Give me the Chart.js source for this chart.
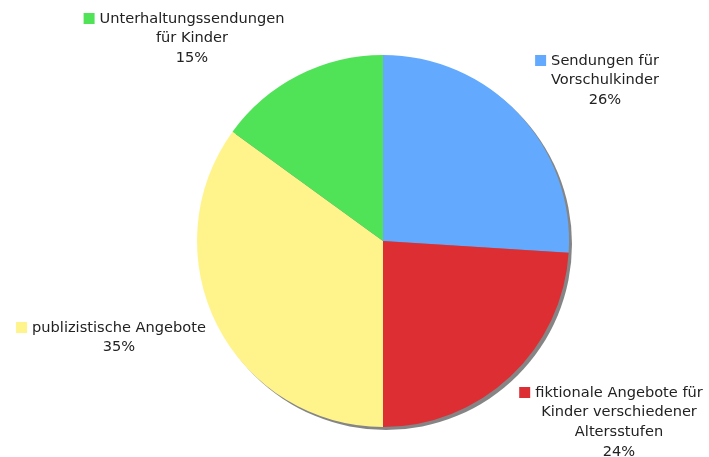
<!DOCTYPE html>
<html>
<head>
<meta charset="utf-8">
<script src="https://cdn.jsdelivr.net/npm/chart.js@4/dist/chart.umd.min.js"></script>
<style>
  html, body { margin: 0; padding: 0; background: #fff; }
  #wrap { width: 709px; height: 457px; }
</style>
</head>
<body>
<div id="wrap"><canvas id="pieChart" width="709" height="457"></canvas></div>
<script>
const categories = [
    ['Sendungen für', 'Vorschulkinder'],
    ['fiktionale Angebote für', 'Kinder verschiedener', 'Altersstufen'],
    ['publizistische Angebote'],
    ['Unterhaltungssendungen', 'für Kinder']
];
const shares = [26, 24, 35, 15];
const colors = ['#63aaff', '#dd2e34', '#fff48c', '#50e358'];

// where each label block sits (centre x, middle of first line)
const labelAnchors = [[605, 61], [619, 393], [119, 328], [192, 19]];

const shadowPlugin = {
    id: 'pieShadow',
    beforeDatasetsDraw(chart) {
        const arc = chart.getDatasetMeta(0).data[0];
        if (!arc) return;
        const ctx = chart.ctx;
        ctx.save();
        ctx.fillStyle = '#858585';
        ctx.beginPath();
        ctx.arc(arc.x + 3, arc.y + 3, arc.outerRadius, 0, Math.PI * 2);
        ctx.fill();
        ctx.restore();
    }
};

const labelPlugin = {
    id: 'sliceLabels',
    afterDatasetsDraw(chart) {
        const ctx = chart.ctx;
        const data = chart.data.datasets[0].data;
        const total = data.reduce((a, b) => a + b, 0);
        ctx.save();
        ctx.font = '14.6px "DejaVu Sans", Verdana, sans-serif';
        ctx.textAlign = 'center';
        ctx.textBaseline = 'middle';
        ctx.fillStyle = '#222';
        chart.data.labels.forEach((lines, i) => {
            const [cx, cy] = labelAnchors[i];
            const allLines = lines.concat([Math.round(data[i] / total * 100) + '%']);
            allLines.forEach((line, j) => {
                ctx.fillText(line, cx, cy + j * 19.7);
            });
            const w = ctx.measureText(lines[0]).width;
            ctx.fillStyle = colors[i];
            ctx.fillRect(cx - w / 2 - 16, cy - 6, 11, 11);
            ctx.fillStyle = '#222';
        });
        ctx.restore();
    }
};

new Chart(document.getElementById('pieChart').getContext('2d'), {
    type: 'pie',
    data: {
        labels: categories,
        datasets: [{
            data: shares,
            backgroundColor: colors,
            hoverBackgroundColor: colors,
            borderWidth: 0,
            hoverOffset: 0
        }]
    },
    options: {
        responsive: false,
        animation: false,
        events: [],
        layout: {
            padding: { top: 55, bottom: 30, left: 197, right: 140 }
        },
        plugins: {
            legend: { display: false },
            tooltip: { enabled: false }
        }
    },
    plugins: [shadowPlugin, labelPlugin]
});
</script>
</body>
</html>
